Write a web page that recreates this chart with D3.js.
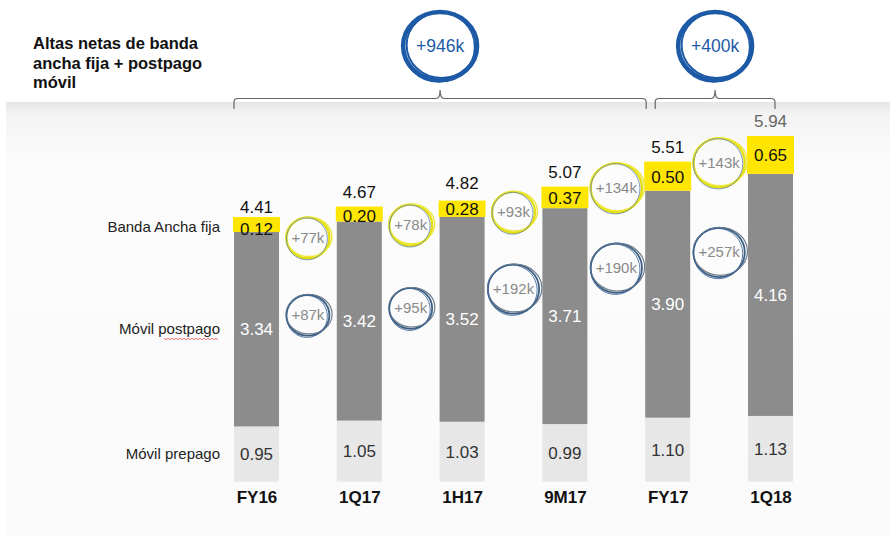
<!DOCTYPE html>
<html>
<head>
<meta charset="utf-8">
<script src="https://cdn.jsdelivr.net/npm/d3@7"></script>
<style>
  body { margin: 0; background: #fff; }
  svg { display: block; font-family: "Liberation Sans", Arial, sans-serif; }
</style>
</head>
<body>
<div class="chart"></div>
<script>
// chart values
const cats = ["FY16", "1Q17", "1H17", "9M17", "FY17", "1Q18"];
const prepago = [0.95, 1.05, 1.03, 0.99, 1.10, 1.13];
const postpago = [3.34, 3.42, 3.52, 3.71, 3.90, 4.16];
const banda = [0.12, 0.20, 0.28, 0.37, 0.50, 0.65];
const totals = [4.41, 4.67, 4.82, 5.07, 5.51, 5.94];
const seriesNames = ["Móvil prepago", "Móvil postpago", "Banda Ancha fija"];
const titleLines = ["Altas netas de banda", "ancha fija + postpago", "móvil"];

// net adds between periods, and the level (in chart units) where each bubble sits
const bandaAdds = ["+77k", "+78k", "+93k", "+134k", "+143k"];
const bandaAddLevel = [4.19, 4.41, 4.63, 5.05, 5.48];
const postpagoAdds = ["+87k", "+95k", "+192k", "+190k", "+257k"];
const postpagoAddLevel = [2.86, 2.98, 3.31, 3.67, 3.94];
const periodAdds = ["+946k", "+400k"];

const WIDTH = 890;
const HEIGHT = 536;
const BW = 45;

const svg = d3.select(".chart").append("svg")
  .attr("width", WIDTH)
  .attr("height", HEIGHT);

// background
const defs = svg.append("defs");
const grad = defs.append("linearGradient").attr("id", "band")
  .attr("x1", 0).attr("y1", 0).attr("x2", 0).attr("y2", 1);
grad.append("stop").attr("offset", "0").attr("stop-color", "#e6e6e6");
grad.append("stop").attr("offset", "0.03").attr("stop-color", "#f4f4f4");
grad.append("stop").attr("offset", "0.15").attr("stop-color", "#fcfcfc");
grad.append("stop").attr("offset", "1").attr("stop-color", "#fafafa");
svg.append("rect").attr("width", WIDTH).attr("height", HEIGHT).attr("fill", "#fff");
svg.append("rect").attr("x", 6).attr("y", 102).attr("width", WIDTH - 6).attr("height", HEIGHT - 102)
  .attr("fill", "url(#band)");

// scales
const x = d3.scalePoint().domain(cats).range([256.5, 770.5]);
const y = d3.scaleLinear().domain([0, 6]).range([481.7, 481.7 - 6 * 58.2]);

const rows = cats.map((c, i) => ({
  cat: c, pre: prepago[i], post: postpago[i], ban: banda[i], tot: totals[i],
  y0: 0, y1: prepago[i], y2: prepago[i] + postpago[i], y3: prepago[i] + postpago[i] + banda[i],
}));

// title
svg.append("g").selectAll("text").data(titleLines).join("text")
  .attr("x", 33).attr("y", (d, i) => 49 + i * 19.5)
  .attr("font-size", 16.5).attr("font-weight", "bold").attr("fill", "#111")
  .text(d => d);

// bars
const bars = svg.append("g").selectAll("g").data(rows).join("g");
bars.append("rect")
  .attr("x", d => x(d.cat) - BW / 2).attr("width", BW)
  .attr("y", d => y(d.y1)).attr("height", d => y(d.y0) - y(d.y1))
  .attr("fill", "#e7e7e7");
bars.append("rect")
  .attr("x", d => x(d.cat) - BW / 2).attr("width", BW)
  .attr("y", d => y(d.y2)).attr("height", d => y(d.y1) - y(d.y2))
  .attr("fill", "#8c8c8c");
// yellow segment, with its label box for thin segments
bars.append("rect")
  .attr("x", d => x(d.cat) - BW / 2 - 1).attr("width", BW + 2)
  .attr("y", d => Math.min(y(d.y3), y(d.y2) - 15)).attr("height", d => Math.max(y(d.y2) - y(d.y3), 15))
  .attr("fill", "#ffe600");

// segment labels
bars.append("text")
  .attr("x", d => x(d.cat)).attr("y", d => y((d.y0 + d.y1) / 2) + 6)
  .attr("text-anchor", "middle").attr("font-size", 17).attr("fill", "#333")
  .text(d => d.pre.toFixed(2));
bars.append("text")
  .attr("x", d => x(d.cat)).attr("y", d => y((d.y1 + d.y2) / 2) + 6)
  .attr("text-anchor", "middle").attr("font-size", 17).attr("fill", "#fff")
  .text(d => d.post.toFixed(2));
bars.append("text")
  .attr("x", d => x(d.cat)).attr("y", d => y((d.y2 + d.y3) / 2) + 6.5)
  .attr("text-anchor", "middle").attr("font-size", 17).attr("fill", "#111")
  .text(d => d.ban.toFixed(2));
bars.append("text")
  .attr("x", d => x(d.cat)).attr("y", d => y(d.y3) - (d.ban < 0.3 ? 12 : 9))
  .attr("text-anchor", "middle").attr("font-size", 17)
  .attr("fill", (d, i) => i === cats.length - 1 ? "#666" : "#111")
  .text(d => d.tot.toFixed(2));

// category axis
const xAxis = svg.append("g")
  .attr("transform", `translate(0,${y(0)})`)
  .call(d3.axisBottom(x).tickSize(0).tickPadding(9))
  .call(g => g.select(".domain").remove());
xAxis.selectAll(".tick text")
  .attr("font-family", "Liberation Sans, Arial, sans-serif")
  .attr("font-size", 17).attr("font-weight", "bold").attr("fill", "#111");

// series names on the left, level with the first bar's segments
const first = rows[0];
const labelLevels = [(first.y0 + first.y1) / 2, (first.y1 + first.y2) / 2, (first.y2 + first.y3) / 2 + 0.02];
svg.append("g").selectAll("text").data(seriesNames).join("text")
  .attr("x", 220).attr("y", (d, i) => y(labelLevels[i]) + 5)
  .attr("text-anchor", "end").attr("font-size", 15).attr("fill", "#222")
  .text(d => d);
// spell-check squiggle under "postpago"
const sq = d3.range(0, 56, 2).map(k => [164 + k, y(labelLevels[1]) + 9 + (k % 4 === 0 ? 0 : 1.5)]);
svg.append("path").attr("d", d3.line()(sq)).attr("fill", "none")
  .attr("stroke", "#e05050").attr("stroke-width", 0.8);

// hand-drawn style bubble
function bubble(g, cx, cy, label, kind) {
  const t = g.append("text").attr("x", cx).attr("y", cy + 5)
    .attr("text-anchor", "middle").attr("font-size", 15).attr("fill", "#8a8a8a").text(label);
  const w = t.node().getComputedTextLength();
  const rx = w / 2 + 5, ry = Math.max(20, rx - 1);
  const strokes = kind === "y"
    ? [["#e4de12", 2.4, 0, 0, 0], ["#eee83a", 1.4, 1, -1, 1.5], ["#4a74a8", 0.7, -1, 1, -1]]
    : [["#3e5f82", 1.8, 0, 0, 0], ["#6c7d8e", 1.2, 1.2, -1, 1.5], ["#2f5d95", 0.8, -1, 1.2, -1]];
  strokes.forEach(s => {
    g.insert("ellipse", "text").attr("cx", cx + s[2]).attr("cy", cy + s[3])
      .attr("rx", rx + s[4]).attr("ry", ry - s[4] / 2)
      .attr("fill", "none").attr("stroke", s[0]).attr("stroke-width", s[1]);
  });
}

const ann = svg.append("g");
bandaAdds.forEach((a, i) => {
  const cx = (x(cats[i]) + x(cats[i + 1])) / 2;
  bubble(ann.append("g"), cx, y(bandaAddLevel[i]), a, "y");
});
postpagoAdds.forEach((a, i) => {
  const cx = (x(cats[i]) + x(cats[i + 1])) / 2;
  bubble(ann.append("g"), cx, y(postpagoAddLevel[i]), a, "b");
});

// braces over the periods
const braces = [
  [x(cats[0]) - BW / 2, x(cats[4]) - BW / 2 + 1],
  [x(cats[4]) - BW / 2 + 10, x(cats[5]) + 4.5],
];
const by = 98.5;
braces.forEach((b, i) => {
  const [x0, x1] = b, xm = (x0 + x1) / 2;
  svg.append("path")
    .attr("d", `M${x0},109 L${x0},102 Q${x0},${by} ${x0 + 4},${by} L${xm - 4},${by} Q${xm},${by} ${xm},90 ` +
      `Q${xm},${by} ${xm + 4},${by} L${x1 - 4},${by} Q${x1},${by} ${x1},102 L${x1},109`)
    .attr("fill", "none").attr("stroke", "#666").attr("stroke-width", 1.2);

  const g = svg.append("g");
  const cy = 46;
  [[0, 0, 37, 34, 4.5], [1.5, -1, 35, 33, 2], [-1.5, 1, 36, 35, 1.5]].forEach(s => {
    g.append("ellipse").attr("cx", xm + s[0]).attr("cy", cy + s[1]).attr("rx", s[2]).attr("ry", s[3])
      .attr("fill", "none").attr("stroke", "#1d5aa6").attr("stroke-width", s[4]);
  });
  g.append("text").attr("x", xm).attr("y", cy + 6)
    .attr("text-anchor", "middle").attr("font-size", 17.5).attr("fill", "#1d5aa6")
    .text(periodAdds[i]);
});
</script>
</body>
</html>
